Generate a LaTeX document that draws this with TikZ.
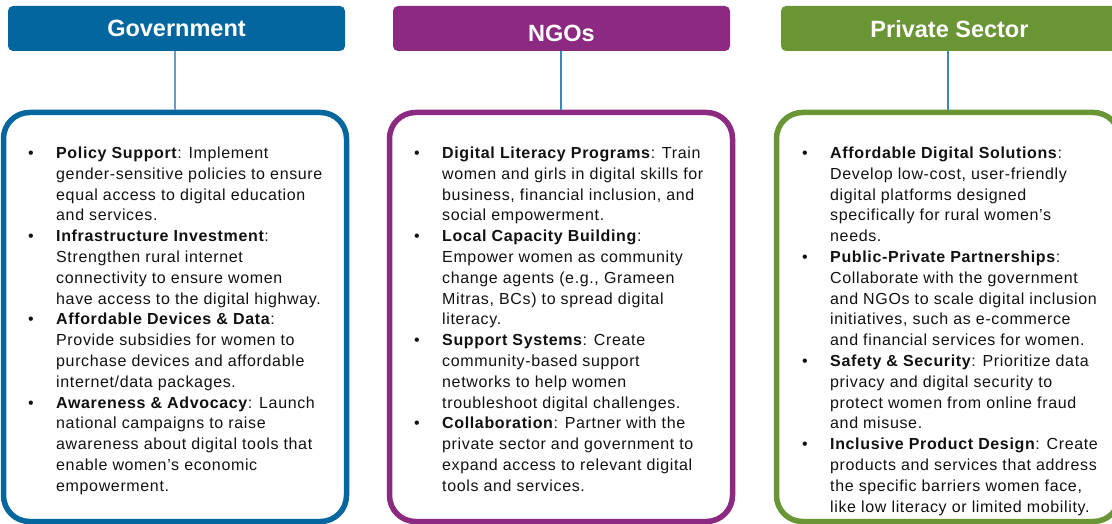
\documentclass[tikz,border=0pt]{standalone}
\usepackage{fontspec}
\setmainfont{Liberation Sans}
\newfontfamily\bodyfont[LetterSpace=4]{Liberation Sans}
\definecolor{govc}{HTML}{04669F}
\definecolor{ngoc}{HTML}{8C2A82}
\definecolor{pvtc}{HTML}{6A9535}
\definecolor{linkc}{HTML}{3C87C0}
\definecolor{txtc}{HTML}{111111}
\newcommand\bul{\leavevmode\llap{\makebox[28pt][l]{•}}}
\newcommand\bodyset{\bodyfont\fontsize{16}{20.8}\selectfont\color{txtc}}
\begin{document}
\begin{tikzpicture}[x=1pt,y=-1pt,
  headbox/.style={fill=#1, rounded corners=5pt, minimum width=337pt, minimum height=45pt,
     inner sep=0pt, text=white, text height=17pt, text depth=5pt,
     font=\bfseries\fontsize{23.5}{27}\selectfont},
  bodybox/.style={draw=#1, line width=5.5pt, rounded corners=26pt, minimum width=343pt,
     minimum height=409pt, inner sep=0pt},
  linkline/.style={draw=linkc, line width=1.2pt},
  bodytext/.style={anchor=base west, inner sep=0pt, align=left}]
\useasboundingbox (0,0) rectangle (1112,524);
\clip (0,0) rectangle (1112,524);

\node[headbox=govc] (hg) at (176.5,28.5) {\raisebox{-2.5pt}{Government}};
\node[headbox=ngoc] (hn) at (561.5,28.5) {\raisebox{-7pt}{NGOs}};
\node[headbox=pvtc] (hp) at (949.5,28.5) {\raisebox{-3pt}{Private Sector}};

\node[bodybox=govc] (bg) at (175,317) {};
\node[bodybox=ngoc] (bn) at (561,317) {};
\node[bodybox=pvtc] (bp) at (948,317) {};

\draw[linkline, draw=linkc!80!white] (bg.north |- hg.south) -- (bg.north);
\draw[linkline] (bn.north |- hn.south) -- (bn.north);
\draw[linkline] (bp.north |- hp.south) -- (bp.north);

\node[bodytext] (tg) at (56,147) {\parbox[t]{290pt}{\bodyset
\bul\textbf{Policy Support}: Implement\\
gender-sensitive policies to ensure\\
equal access to digital education\\
and services.\\
\bul\textbf{Infrastructure Investment}:\\
Strengthen rural internet\\
connectivity to ensure women\\
have access to the digital highway.\\
\bul\textbf{Affordable Devices \& Data}:\\
Provide subsidies for women to\\
purchase devices and affordable\\
internet/data packages.\\
\bul\textbf{Awareness \& Advocacy}: Launch\\
national campaigns to raise\\
awareness about digital tools that\\
enable women’s economic\\
empowerment.}};

\node[bodytext] (tn) at (442,147) {\parbox[t]{290pt}{\bodyset
\bul\textbf{Digital Literacy Programs}: Train\\
women and girls in digital skills for\\
business, financial inclusion, and\\
social empowerment.\\
\bul\textbf{Local Capacity Building}:\\
Empower women as community\\
change agents (e.g., Grameen\\
Mitras, BCs) to spread digital\\
literacy.\\
\bul\textbf{Support Systems}: Create\\
community-based support\\
networks to help women\\
troubleshoot digital challenges.\\
\bul\textbf{Collaboration}: Partner with the\\
private sector and government to\\
expand access to relevant digital\\
tools and services.}};

\node[bodytext] (tp) at (830,147) {\parbox[t]{290pt}{\bodyset
\bul\textbf{Affordable Digital Solutions}:\\
Develop low-cost, user-friendly\\
digital platforms designed\\
specifically for rural women’s\\
needs.\\
\bul\textbf{Public-Private Partnerships}:\\
Collaborate with the government\\
and NGOs to scale digital inclusion\\
initiatives, such as e-commerce\\
and financial services for women.\\
\bul\textbf{Safety \& Security}: Prioritize data\\
privacy and digital security to\\
protect women from online fraud\\
and misuse.\\
\bul\textbf{Inclusive Product Design}: Create\\
products and services that address\\
the specific barriers women face,\\
like low literacy or limited mobility.}};
\end{tikzpicture}
\end{document}
